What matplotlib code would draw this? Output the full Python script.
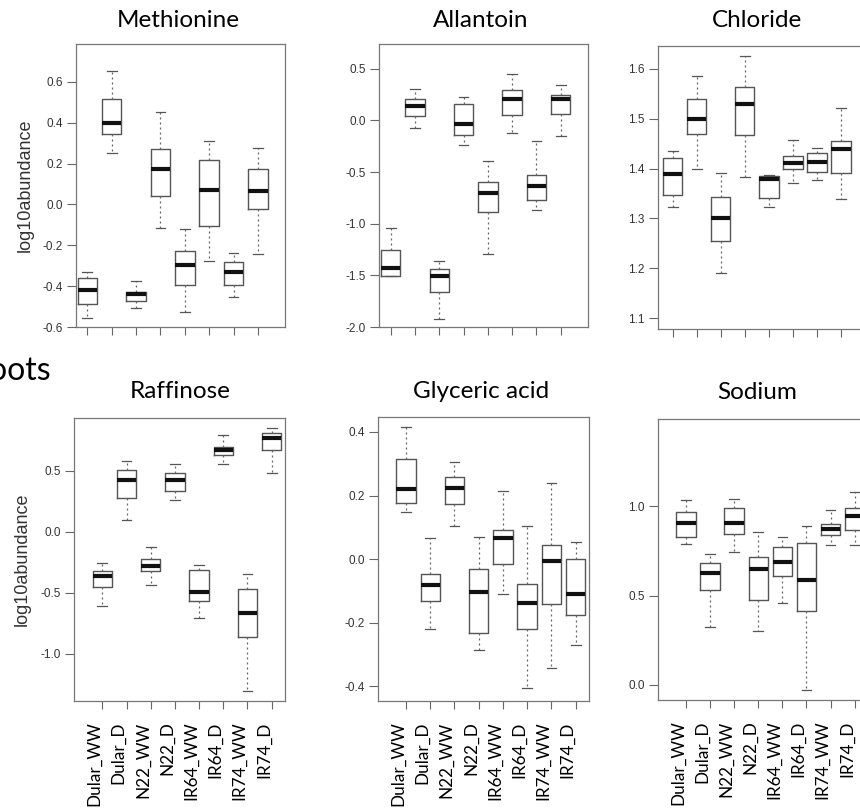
import matplotlib
matplotlib.use("Agg")
import matplotlib.pyplot as plt

# ---- data: each row = [lower whisker, Q1, median, Q3, upper whisker]
groups = ["Dular_WW", "Dular_D", "N22_WW", "N22_D", "IR64_WW", "IR64_D", "IR74_WW", "IR74_D"]

methionine = [[-0.557, -0.487, -0.418, -0.362, -0.330],
              [0.250, 0.344, 0.397, 0.516, 0.656],
              [-0.509, -0.473, -0.438, -0.429, -0.374],
              [-0.113, 0.042, 0.173, 0.274, 0.452],
              [-0.527, -0.393, -0.297, -0.229, -0.119],
              [-0.278, -0.103, 0.069, 0.220, 0.313],
              [-0.451, -0.395, -0.331, -0.282, -0.238],
              [-0.243, -0.023, 0.065, 0.173, 0.276]]

allantoin = [[-1.505, -1.503, -1.429, -1.252, -1.045],
             [-0.074, 0.042, 0.135, 0.206, 0.300],
             [-1.919, -1.661, -1.506, -1.435, -1.361],
             [-0.242, -0.139, -0.032, 0.155, 0.223],
             [-1.290, -0.884, -0.706, -0.600, -0.390],
             [-0.126, 0.048, 0.206, 0.290, 0.452],
             [-0.868, -0.774, -0.635, -0.532, -0.203],
             [-0.152, 0.061, 0.206, 0.242, 0.345]]

chloride = [[1.323, 1.346, 1.389, 1.421, 1.435],
            [1.400, 1.469, 1.500, 1.539, 1.586],
            [1.190, 1.255, 1.300, 1.342, 1.391],
            [1.383, 1.467, 1.529, 1.563, 1.626],
            [1.323, 1.341, 1.380, 1.385, 1.387],
            [1.371, 1.400, 1.411, 1.426, 1.458],
            [1.378, 1.393, 1.413, 1.431, 1.441],
            [1.339, 1.391, 1.439, 1.455, 1.521]]

raffinose = [[-0.609, -0.456, -0.366, -0.325, -0.254],
             [0.098, 0.276, 0.429, 0.505, 0.582],
             [-0.440, -0.325, -0.279, -0.221, -0.123],
             [0.260, 0.336, 0.423, 0.484, 0.555],
             [-0.710, -0.568, -0.497, -0.314, -0.276],
             [0.555, 0.628, 0.669, 0.697, 0.798],
             [-1.303, -0.861, -0.669, -0.473, -0.350],
             [0.486, 0.675, 0.770, 0.811, 0.855]]

glyceric = [[0.149, 0.177, 0.220, 0.315, 0.415],
            [-0.221, -0.132, -0.082, -0.048, 0.066],
            [0.105, 0.175, 0.224, 0.259, 0.304],
            [-0.286, -0.232, -0.104, -0.031, 0.069],
            [-0.108, -0.015, 0.068, 0.093, 0.215],
            [-0.404, -0.221, -0.138, -0.077, 0.105],
            [-0.341, -0.142, -0.006, 0.043, 0.238],
            [-0.269, -0.177, -0.110, -0.001, 0.053]]

sodium = [[0.790, 0.830, 0.906, 0.968, 1.039],
          [0.326, 0.530, 0.629, 0.682, 0.736],
          [0.742, 0.845, 0.906, 0.989, 1.043],
          [0.301, 0.476, 0.650, 0.715, 0.856],
          [0.459, 0.609, 0.691, 0.775, 0.826],
          [-0.030, 0.414, 0.586, 0.794, 0.890],
          [0.783, 0.841, 0.873, 0.899, 0.978],
          [0.783, 0.869, 0.944, 0.994, 1.084]]

titles = ["Methionine", "Allantoin", "Chloride", "Raffinose", "Glyceric acid", "Sodium"]

methionine_ticks = [-0.6, -0.4, -0.2, 0.0, 0.2, 0.4, 0.6]
allantoin_ticks = [-2.0, -1.5, -1.0, -0.5, 0.0, 0.5]
chloride_ticks = [1.1, 1.2, 1.3, 1.4, 1.5, 1.6]
raffinose_ticks = [-1.0, -0.5, 0.0, 0.5]
glyceric_ticks = [-0.4, -0.2, 0.0, 0.2, 0.4]
sodium_ticks = [0.0, 0.5, 1.0]

W, H = 860, 808
fig = plt.figure(figsize=(W / 100, H / 100), dpi=100)

TITLE_FONT = ["Lato", "DejaVu Sans"]
TICK_FONT = ["Liberation Sans", "DejaVu Sans"]

# layout: (left, right, top, bottom) px, xlim, ylim, title center x, title baseline y
panels = [
    (methionine, methionine_ticks, (76, 285, 44, 327), (0.537, 9.107), (-0.6, 0.786), 178, 27, True, False),
    (allantoin, allantoin_ticks, (379, 588, 44, 327), (0.518, 9.124), (-2.0, 0.739), 481, 27, False, False),
    (chloride, chloride_ticks, (658, 868, 46, 329), (0.389, 9.12), (1.078, 1.646), 757, 27, False, False),
    (raffinose, raffinose_ticks, (74, 285, 418, 701), (-0.17, 8.55), (-1.388, 0.934), 180, 398, True, True),
    (glyceric, glyceric_ticks, (378, 589, 417, 701), (-0.155, 8.55), (-0.446, 0.447), 481, 398, False, True),
    (sodium, sodium_ticks, (658, 868, 419, 700), (-0.157, 8.55), (-0.086, 1.491), 757, 399, False, True),
]

positions = list(range(1, len(groups) + 1))

for (data, yt, (l, r, t, b), xl, yl, tx, ty, ylab, xlab), title in zip(panels, titles):
    ax = fig.add_axes([l / W, 1 - b / H, (r - l) / W, (b - t) / H])
    stats = [dict(whislo=d[0], q1=d[1], med=d[2], q3=d[3], whishi=d[4], fliers=[])
             for d in data]
    ax.bxp(stats, positions=positions, widths=0.8, capwidths=0.4, showfliers=False,
           patch_artist=False,
           boxprops=dict(color="#555555", linewidth=1.0),
           medianprops=dict(color="#111111", linewidth=3.0, solid_capstyle="butt"),
           whiskerprops=dict(color="#666666", linewidth=0.9, linestyle=(0, (1.6, 2.4))),
           capprops=dict(color="#555555", linewidth=0.9))
    ax.set_xlim(*xl)
    ax.set_ylim(*yl)
    ax.set_yticks(yt)
    ax.set_yticklabels([f"{v:.1f}" for v in yt], fontsize=8.5, color="#333333",
                       family=TICK_FONT)
    ax.set_xticks(positions)
    if xlab:
        ax.set_xticklabels(groups, rotation=90, ha="right", fontsize=12.3,
                           family=TITLE_FONT, color="black")
    else:
        ax.set_xticklabels([])
    ax.tick_params(axis="y", length=6.5, width=0.8, color="#666666", pad=3)
    ax.tick_params(axis="x", length=5.8, width=0.8, color="#666666", pad=9)
    for s in ax.spines.values():
        s.set_color("#777777")
        s.set_linewidth(0.9)
    if ylab:
        ax.text(-0.244, 0.5, "log10abundance", transform=ax.transAxes, rotation=90,
                ha="center", va="center", fontsize=13, color="#333333", family=TICK_FONT)
    fig.text(tx / W, 1 - ty / H, title, ha="center", va="baseline", fontsize=17.5,
             family=TITLE_FONT, color="black")

fig.text(51 / W, 1 - 380 / H, "Roots", ha="right", va="baseline", fontsize=23,
         family=TITLE_FONT, color="black")

fig.savefig("out.png", dpi=100)
